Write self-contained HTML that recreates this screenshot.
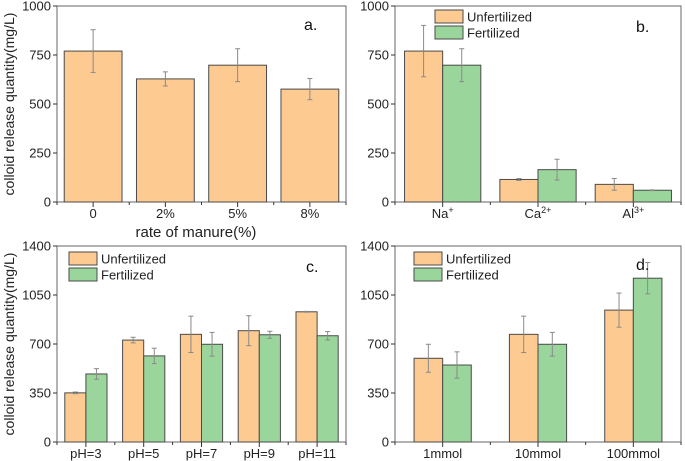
<!DOCTYPE html>
<html><head><meta charset="utf-8"><style>
body{margin:0;background:#fff;}
svg{display:block;font-family:"Liberation Sans",Arial,sans-serif;}
</style></head><body>
<svg id="chart" width="685" height="461" viewBox="0 0 685 461"></svg>
<script>
const catsA=["0","2%","5%","8%"];
const valA=[770,628,698,576];
const errA=[109,36,84,54];
const catsB=["Na","Ca","Al"];
const supB=["+","2+","3+"];
const unfB=[770,115,90];
const unfErrB=[131,5,30];
const ferB=[698,165,60];
const ferErrB=[84,53,2];
const catsC=["pH=3","pH=5","pH=7","pH=9","pH=11"];
const unfC=[351,728,769,795,930];
const unfErrC=[6,20,130,107,3];
const ferC=[486,615,698,766,759];
const ferErrC=[38,55,85,25,30];
const catsD=["1mmol","10mmol","100mmol"];
const unfD=[598,769,942];
const unfErrD=[100,130,122];
const ferD=[550,698,1170];
const ferErrD=[94,85,112];
const ticksAB=[0,250,500,750,1000];
const ticksCD=[0,350,700,1050,1400];

const NS="http://www.w3.org/2000/svg";
const svg=document.getElementById('chart');
const ORANGE="#fdcb92",GREEN="#9ad69c",EDGE="#4a4a4a",ERR="#8a8a8a";
function el(tag,attrs,parent){const e=document.createElementNS(NS,tag);for(const k in attrs)e.setAttribute(k,attrs[k]);(parent||svg).appendChild(e);return e;}

function panel(o){
  const g=el('g',{});
  
  
  const {x0,x1,y0,y1,max}=o;
  const ys=v=>y1-(v/max)*(y1-y0);
  const n=o.cats.length,cw=(x1-x0)/n;
  const xc=i=>x0+cw*(i+0.5);
  const fr=el('rect',{x:x0,y:y0,width:x1-x0,height:y1-y0,fill:'none',stroke:'#666','stroke-width':1},g);
  
  
  o.ticks.forEach(t=>{
    const y=ys(t);
    el('line',{x1:x0-4,x2:x0,y1:y,y2:y,stroke:'#333'},g);
    const tx=el('text',{x:x0-6,y:y+4.5,'text-anchor':'end','font-size':13,fill:'#222'},g);
    tx.textContent=t;
    
    
  });
  for(let i=0;i<=n;i++){const x=x0+cw*i;el('line',{x1:x,x2:x,y1:y1,y2:y1+3,stroke:'#333'},g);}
  const series=o.series;
  const bw=cw*o.frac/series.length;
  o.cats.forEach((c,i)=>{
    el('line',{x1:xc(i),x2:xc(i),y1:y1,y2:y1+5,stroke:'#333'},g);
    series.forEach((s,j)=>{
      const bx=xc(i)-bw*series.length/2+bw*j;
      const v=s.vals[i],e=s.errs[i];
      const r=el('rect',{x:bx,y:ys(v),width:bw,height:y1-ys(v),fill:s.color,stroke:EDGE,'stroke-width':1},g);
      
      
      const cx=bx+bw/2;
      el('line',{x1:cx,x2:cx,y1:ys(v+e),y2:ys(v-e),stroke:ERR,'stroke-width':1},g);
      el('line',{x1:cx-2.5,x2:cx+2.5,y1:ys(v+e),y2:ys(v+e),stroke:ERR},g);
      el('line',{x1:cx-2.5,x2:cx+2.5,y1:ys(v-e),y2:ys(v-e),stroke:ERR},g);
    });
    const lt=el('text',{x:xc(i),y:y1+16,'text-anchor':'middle','font-size':13,fill:'#222'},g);
    lt.textContent=c;
    if(o.sups){const ts=el('tspan',{'font-size':9,dy:-5},lt);ts.textContent=o.sups[i];}
    
    
  });
  if(o.legend){
    series.forEach((s,j)=>{
      const lr=el('rect',{x:o.legend[0],y:o.legend[1]+j*16,width:28,height:13,fill:s.color,stroke:EDGE},g);
      
      
      const lt=el('text',{x:o.legend[0]+32,y:o.legend[1]+j*16+11.5,'font-size':13,fill:'#222'},g);
      lt.textContent=s.label;
      
      
    });
  }
  const pl=el('text',{x:o.tag[0],y:o.tag[1],'font-size':16,fill:'#111'},g);
  pl.textContent=o.tagText;
  
  
}

panel({name:'panel-a',x0:57,x1:346,y0:6,y1:202,max:1000,ticks:ticksAB,cats:catsA,frac:0.8,
  series:[{key:'rate',vals:valA,errs:errA,color:ORANGE}],tag:[304,30],tagText:'a.'});
panel({name:'panel-b',x0:395,x1:681,y0:6,y1:202,max:1000,ticks:ticksAB,cats:catsB,sups:supB,frac:0.8,
  series:[{key:'unfertilized',label:'Unfertilized',vals:unfB,errs:unfErrB,color:ORANGE},{key:'fertilized',label:'Fertilized',vals:ferB,errs:ferErrB,color:GREEN}],
  legend:[435,10],tag:[636,32],tagText:'b.'});
panel({name:'panel-c',x0:57,x1:346,y0:246,y1:442,max:1400,ticks:ticksCD,cats:catsC,frac:0.73,
  series:[{key:'unfertilized',label:'Unfertilized',vals:unfC,errs:unfErrC,color:ORANGE},{key:'fertilized',label:'Fertilized',vals:ferC,errs:ferErrC,color:GREEN}],
  legend:[69,252],tag:[306,272],tagText:'c.'});
panel({name:'panel-d',x0:395,x1:681,y0:246,y1:442,max:1400,ticks:ticksCD,cats:catsD,frac:0.6,
  series:[{key:'unfertilized',label:'Unfertilized',vals:unfD,errs:unfErrD,color:ORANGE},{key:'fertilized',label:'Fertilized',vals:ferD,errs:ferErrD,color:GREEN}],
  legend:[414,252],tag:[636,270],tagText:'d.'});

function title(txt,x,y,rot,name,size){
  const t=el('text',{x:x,y:y,'text-anchor':'middle','font-size':size,fill:'#222'});
  if(rot)t.setAttribute('transform','rotate(-90 '+x+' '+y+')');
  t.textContent=txt;
  
  
}
title('colloid release quantity(mg/L)',14,104,true,'y-axis-title-top',14);
title('colloid release quantity(mg/L)',14,344,true,'y-axis-title-bottom',14);
title('rate of manure(%)',196,237,false,'x-axis-title-a',15);
</script>
</body></html>
